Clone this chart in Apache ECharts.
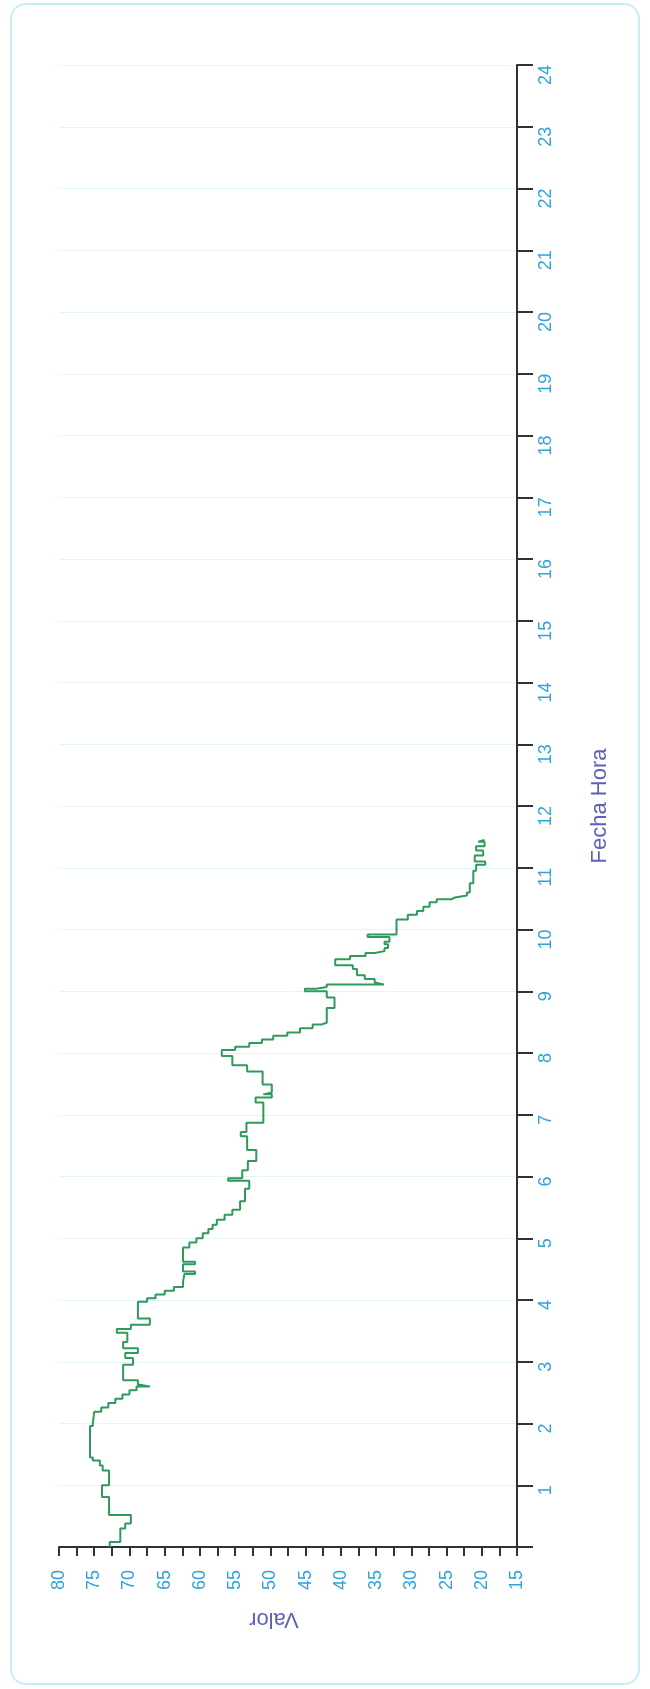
<!DOCTYPE html>
<html>
<head>
<meta charset="utf-8">
<script src="https://cdn.jsdelivr.net/npm/echarts@6/dist/echarts.min.js"></script>
<style>
html,body{margin:0;padding:0;background:#ffffff;}
#frame{position:absolute;left:10px;top:3px;width:630px;height:1682px;border:2px solid #c6eef6;border-radius:16px;box-sizing:border-box;}
#chart{position:absolute;left:0;top:0;width:650px;height:1689px;}
</style>
</head>
<body>
<div id="frame"></div>
<div id="chart"></div>
<script>
// Hour (Fecha Hora) at which each reading starts, and its value (Valor)
const hours = [0.00,0.08,0.30,0.38,0.52,0.81,1.00,1.24,1.32,1.40,1.45,1.96,2.00,2.19,2.26,2.33,2.40,2.47,2.54,2.60,2.63,2.70,2.95,3.06,3.14,3.22,3.32,3.47,3.53,3.60,3.70,3.97,4.03,4.09,4.15,4.21,4.29,4.42,4.46,4.58,4.62,4.85,4.93,5.00,5.08,5.15,5.22,5.30,5.38,5.46,5.60,5.80,5.93,5.97,6.10,6.25,6.43,6.65,6.72,6.87,7.20,7.28,7.33,7.36,7.49,7.70,7.80,7.95,8.05,8.10,8.16,8.22,8.28,8.33,8.40,8.46,8.49,8.73,8.90,9.00,9.04,9.07,9.11,9.14,9.20,9.26,9.36,9.42,9.52,9.57,9.62,9.65,9.70,9.76,9.80,9.88,9.92,10.16,10.24,10.30,10.37,10.44,10.49,10.52,10.55,10.60,10.75,10.95,11.05,11.10,11.20,11.28,11.35,11.42,11.45];
const values = [72.8,71.3,70.6,69.8,72.9,73.9,72.9,73.8,74.2,75.2,75.6,75.2,75.0,74.0,73.0,72.0,71.0,70.0,69.0,67.1,68.8,70.9,69.5,70.6,68.8,70.9,70.3,71.8,69.8,67.1,68.8,67.5,66.3,65.0,63.7,62.4,62.2,60.7,62.4,60.7,62.4,61.5,60.5,59.6,58.8,58.2,57.6,56.5,55.4,54.3,53.6,53.0,56.0,54.0,53.2,52.0,53.3,54.2,53.4,51.0,52.1,49.8,51.0,49.8,51.1,53.3,55.4,56.9,55.0,53.0,51.2,49.6,47.6,45.8,44.0,42.8,42.0,40.9,42.0,45.1,43.5,42.0,33.9,35.2,36.6,37.7,38.3,40.8,38.7,36.5,35.2,33.8,33.3,33.8,33.1,36.2,32.1,30.5,29.2,28.3,27.4,26.4,24.3,23.8,22.1,21.7,21.2,20.8,19.5,21.0,19.8,20.8,19.6,20.5,19.6];
// Tick labels
const valueTicks = [15,20,25,30,35,40,45,50,55,60,65,70,75,80];
const hourTicks = ['1','2','3','4','5','6','7','8','9','10','11','12','13','14','15','16','17','18','19','20','21','22','23','24'];

const chart = echarts.init(document.getElementById('chart'), null, {renderer:'canvas'});
const axisDark = '#2f3336';
const labelColor = '#2ea4d8';
const nameColor = '#5a63b8';
const fontFam = 'Liberation Sans, Arial, sans-serif';

chart.setOption({
  animation:false,
  backgroundColor:'transparent',
  grid:{left:59, right:133, top:65, bottom:142, containLabel:false, outerBoundsMode:'none'},
  xAxis:{
    type:'value', min:valueTicks[0], max:valueTicks[valueTicks.length-1], interval:5,
    inverse:true, position:'bottom',
    axisLine:{show:true, onZero:false, lineStyle:{color:axisDark, width:2}},
    axisTick:{show:true, length:9, lineStyle:{color:axisDark, width:2}},
    minorTick:{show:true, splitNumber:2, length:9, lineStyle:{color:axisDark, width:2}},
    axisLabel:{show:true, rotate:90, margin:23, color:labelColor, fontSize:18, fontFamily:fontFam,
      formatter:function(v){ return valueTicks.indexOf(v) >= 0 ? String(v) : ''; }},
    splitLine:{show:false},
    name:'Valor', nameLocation:'middle', nameGap:61, nameRotate:180,
    nameTextStyle:{color:nameColor, fontSize:22, fontFamily:fontFam, padding:[0,0,0,28]}
  },
  yAxis:{
    type:'value', min:0, max:24, interval:1, position:'right',
    axisLine:{show:true, onZero:false, lineStyle:{color:axisDark, width:2}},
    axisTick:{show:true, length:16, lineStyle:{color:axisDark, width:2}},
    axisLabel:{show:true, rotate:90, margin:20, align:'right', verticalAlign:'top',
      color:labelColor, fontSize:18, fontFamily:fontFam,
      formatter:function(v){ return v === 0 ? '' : hourTicks[v-1]; }},
    splitLine:{show:true, lineStyle:{color:'#e3f5fa', width:1}},
    name:'Fecha Hora', nameLocation:'middle', nameGap:72, nameRotate:90,
    nameTextStyle:{color:nameColor, fontSize:22, fontFamily:fontFam}
  },
  series:[{
    type:'line',
    step:'start',
    showSymbol:false,
    symbol:'none',
    data: hours.map(function(h,i){ return [values[i], h]; }),
    lineStyle:{color:'#2f9a5c', width:2},
    z:3
  }]
});
</script>
</body>
</html>
